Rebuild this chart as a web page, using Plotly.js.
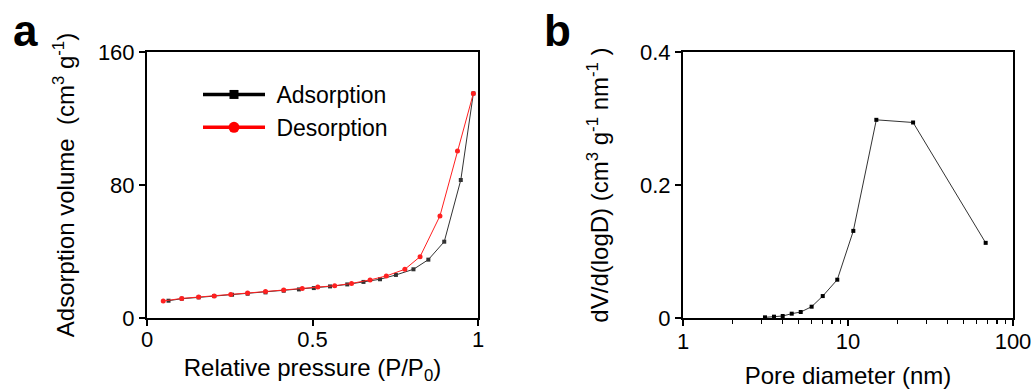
<!DOCTYPE html>
<html><head><meta charset="utf-8">
<script src="https://cdn.plot.ly/plotly-3.0.1.min.js"></script>
<style>html,body{margin:0;padding:0;background:#fff}#chart{width:1034px;height:391px}</style>
</head><body><div id="chart"></div>
<script>
// Panel a: N2 adsorption / desorption isotherm
const adsP = [0.065, 0.105, 0.156, 0.203, 0.257, 0.304, 0.358, 0.413, 0.459, 0.504, 0.553, 0.605, 0.654, 0.704, 0.752, 0.805, 0.850, 0.898, 0.948, 0.986];
const adsV = [10.4, 11.6, 12.4, 13.2, 14.0, 14.6, 15.4, 16.4, 17.2, 18.0, 19.0, 20.2, 21.7, 23.3, 25.9, 29.3, 35.1, 45.9, 83.0, 135.1];
const desP = [0.049, 0.105, 0.156, 0.203, 0.253, 0.304, 0.358, 0.413, 0.469, 0.516, 0.567, 0.618, 0.674, 0.723, 0.779, 0.825, 0.885, 0.938, 0.986];
const desV = [10.2, 11.8, 12.6, 13.2, 14.2, 15.0, 16.0, 16.8, 17.8, 18.6, 19.4, 20.8, 22.9, 25.3, 29.3, 36.9, 61.4, 100.5, 135.1];
// Panel b: pore size distribution
const poreD = [3.14, 3.56, 4.02, 4.56, 5.17, 6.02, 7.03, 8.61, 10.77, 14.85, 24.8, 68.3];
const poreV = [0.001, 0.002, 0.003, 0.0065, 0.009, 0.017, 0.033, 0.0576, 0.131, 0.298, 0.294, 0.113];
// Tick labels
const isoXTicks = [0, 0.5, 1];
const isoYTicks = [0, 80, 160];
const poreXTicks = [1, 10, 100];
const poreXTickText = ['1', '10', '100'];
const poreYTicks = [0, 0.2, 0.4];
const seriesNames = ['Adsorption', 'Desorption'];

const minorTicks = [];
for (let dec = 1; dec < 100; dec *= 10) for (let k = 2; k <= 9; k++) minorTicks.push(k * dec);

const FONT = 'Liberation Sans, Arial, sans-serif';
const W = 1034, H = 391;
const px = v => v / W, py = v => (H - v) / H;

const traces = [
  {x: adsP, y: adsV, type: 'scatter', mode: 'lines+markers', xaxis: 'x', yaxis: 'y', showlegend: false,
   line: {color: '#333333', width: 1}, marker: {symbol: 'square', size: 4, color: '#333333'}, name: seriesNames[0]},
  {x: desP, y: desV, type: 'scatter', mode: 'lines+markers', xaxis: 'x', yaxis: 'y', showlegend: false,
   line: {color: '#ff2020', width: 1}, marker: {symbol: 'circle', size: 5, color: '#ff2020'}, name: seriesNames[1]},
  // legend entries
  {x: [null], y: [null], type: 'scatter', mode: 'lines+markers', xaxis: 'x', yaxis: 'y', name: '\u00a0' + seriesNames[0],
   line: {color: '#000000', width: 3.5}, marker: {symbol: 'square', size: 9, color: '#000000'}},
  {x: [null], y: [null], type: 'scatter', mode: 'lines+markers', xaxis: 'x', yaxis: 'y', name: '\u00a0' + seriesNames[1],
   line: {color: '#ff0000', width: 3.5}, marker: {symbol: 'circle', size: 11, color: '#ff0000'}},
  {x: poreD, y: poreV, type: 'scatter', mode: 'lines+markers', xaxis: 'x2', yaxis: 'y2', showlegend: false,
   line: {color: '#333333', width: 1}, marker: {symbol: 'square', size: 4, color: '#000000'}, name: 'PSD'}
];

const axBase = {showline: true, linewidth: 2, linecolor: '#000', mirror: true, ticks: 'outside', ticklen: 6, tickwidth: 2,
  tickcolor: '#000', showgrid: false, zeroline: false, tickfont: {size: 22, color: '#000', family: FONT}};

const layout = {
  width: W, height: H, margin: {l: 0, r: 0, t: 0, b: 0}, paper_bgcolor: '#fff', plot_bgcolor: '#fff',
  font: {family: FONT, color: '#000', size: 22},
  showlegend: true,
  legend: {x: px(198), y: py(73), xanchor: 'left', yanchor: 'top', bgcolor: 'rgba(0,0,0,0)', font: {size: 23, family: FONT}, itemwidth: 62, tracegroupgap: 0},
  xaxis: Object.assign({}, axBase, {domain: [px(147), px(478)], range: [0, 1], tickmode: 'array', tickvals: isoXTicks,
    anchor: 'y', ticklabelstandoff: -5, title: {text: 'Relative pressure (P/P<sub>0</sub>)', font: {size: 24}, standoff: 8}}),
  yaxis: Object.assign({}, axBase, {domain: [1 - 318 / H, 1 - 52 / H], range: [0, 160], tickmode: 'array', tickvals: isoYTicks,
    anchor: 'x', title: {text: 'Adsorption volume\u00a0 (cm<sup>3</sup> g<sup>-1</sup>)', font: {size: 24}, standoff: 16}}),
  xaxis2: Object.assign({}, axBase, {domain: [px(683), px(1013)], type: 'log', range: [0, 2], tickmode: 'array', tickvals: poreXTicks,
    ticktext: poreXTickText, anchor: 'y2', ticklabelstandoff: -3,
    minor: {tickmode: 'array', tickvals: minorTicks, ticks: 'outside', ticklen: 4, tickwidth: 1.5, tickcolor: '#000'},
    title: {text: 'Pore diameter (nm)', font: {size: 24}, standoff: 14}}),
  yaxis2: Object.assign({}, axBase, {domain: [1 - 318 / H, 1 - 52 / H], range: [0, 0.4], tickmode: 'array', tickvals: poreYTicks,
    anchor: 'x2', title: {text: 'dV/d(logD) (cm<sup>3</sup> g<sup>-1</sup> nm<sup>-1</sup> )', font: {size: 24}, standoff: 25}}),
  annotations: [
    {text: '<b>a</b>', xref: 'paper', yref: 'paper', x: px(11), y: py(4), xanchor: 'left', yanchor: 'top', showarrow: false,
     font: {size: 44, family: FONT, color: '#000'}},
    {text: '<b>b</b>', xref: 'paper', yref: 'paper', x: px(542), y: py(4), xanchor: 'left', yanchor: 'top', showarrow: false,
     font: {size: 44, family: FONT, color: '#000'}}
  ]
};

Plotly.newPlot('chart', traces, layout, {staticPlot: true, displayModeBar: false});
</script>
</body></html>
